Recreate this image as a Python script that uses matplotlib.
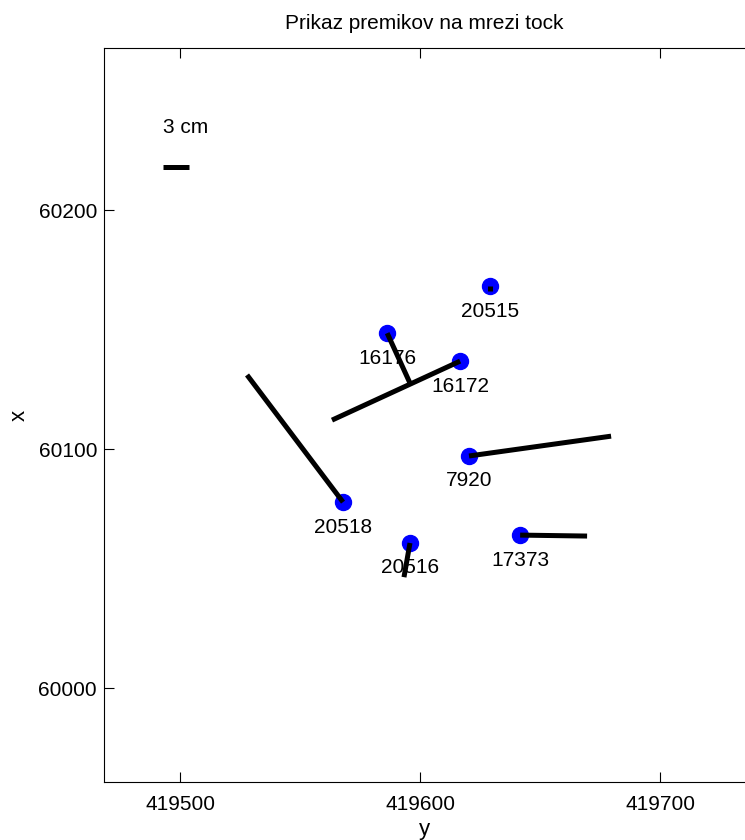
import matplotlib
matplotlib.use("Agg")
from matplotlib import pyplot as plt

plt.rcParams['font.family'] = ['Liberation Sans', 'DejaVu Sans']

# point names, coordinates (y = easting, x = northing)
names = ['20515', '16176', '16172', '7920', '20518', '20516', '17373']
pt_y = [419629.2, 419586.3, 419616.7, 419620.4, 419567.9, 419595.8, 419641.7]
pt_x = [60168.2, 60148.5, 60136.8, 60097.1, 60077.8, 60060.7, 60064.0]

# displacement vectors as drawn (plot units, scaled)
dy = [0.0, 9.5, -53.4, 59.2, -40.0, -2.5, 27.9]
dx = [-2.0, -20.9, -24.7, 8.3, 53.2, -14.3, -0.4]

# scale bar
scale_label = '3 cm'
scale_len = 10.8
scale_pos = (419493.0, 60218.0)

fig = plt.figure(figsize=(7.45, 8.4), dpi=100)
ax = fig.add_axes([104 / 745, 58 / 840, 641 / 745, 734 / 840])

ax.plot(pt_y, pt_x, 'o', color='#0000ff', markersize=11.5, zorder=2)
for i in range(len(names)):
    ax.plot([pt_y[i], pt_y[i] + dy[i]], [pt_x[i], pt_x[i] + dx[i]],
            color='black', linewidth=3.6, solid_capstyle='butt', zorder=3)
    ax.annotate(names[i], (pt_y[i], pt_x[i]), xytext=(0, -25),
                textcoords='offset pixels', ha='center', va='center',
                fontsize=15)

# scale bar
ax.plot([scale_pos[0], scale_pos[0] + scale_len], [scale_pos[1], scale_pos[1]],
        color='black', linewidth=3.6, solid_capstyle='butt')
ax.text(scale_pos[0], scale_pos[1] + 16.5, scale_label, ha='left', va='center',
        fontsize=15)

ax.set_xlim(419468.3, 419735.4)
ax.set_ylim(59960.7, 60267.8)
ax.set_xticks([419500, 419600, 419700])
ax.set_yticks([60000, 60100, 60200])
ax.ticklabel_format(useOffset=False, style='plain')
ax.spines['right'].set_visible(False)
ax.tick_params(direction='in', length=7, top=True, right=False, labelsize=15)
ax.tick_params(axis='x', pad=9)
ax.tick_params(axis='y', pad=5)
ax.set_title('Prikaz premikov na mrezi tock', fontsize=15, pad=14)
ax.set_xlabel('y', fontsize=16, labelpad=4)
ax.set_ylabel('x', fontsize=16, labelpad=6)

fig.savefig('out.png', dpi=100)
